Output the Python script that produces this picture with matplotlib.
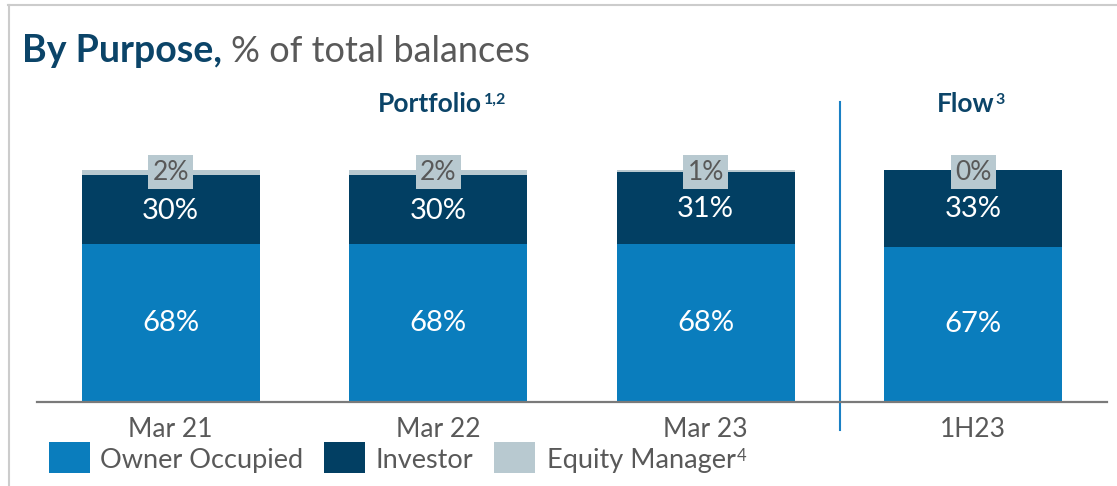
import matplotlib
matplotlib.use("Agg")
import matplotlib.pyplot as plt
from matplotlib.patches import Rectangle
from matplotlib.lines import Line2D

plt.rcParams['font.family'] = ['Lato', 'DejaVu Sans']

categories = ["Mar 21", "Mar 22", "Mar 23", "1H23"]
owner_occupied = [68, 68, 68, 67]
investor = [30, 30, 31, 33]
equity_manager = [2, 2, 1, 0]
series_names = ["Owner Occupied", "Investor", "Equity Manager"]

C_OO = "#0a7dbd"
C_INV = "#023f63"
C_EM = "#b8c9d0"
C_DARK = "#0b4468"
C_GRAY = "#595959"

W, H = 1117, 486
fig = plt.figure(figsize=(W / 100, H / 100), dpi=100)

def px(x, y):
    return x / W, 1 - y / H

# axes: x from 37 to 1107 px, baseline at 402 px, 100% at 170 px
ax = fig.add_axes([37 / W, (H - 402) / H, (1107 - 37) / W, 232 / H])
ax.set_xlim(-0.5, 3.5)
ax.set_ylim(0, 100)

x = list(range(len(categories)))
bw = 0.667
bottom2 = [a + b for a, b in zip(owner_occupied, investor)]
ax.bar(x, owner_occupied, width=bw, color=C_OO, edgecolor="none")
ax.bar(x, investor, width=bw, bottom=owner_occupied, color=C_INV, edgecolor="none")
ax.bar(x, equity_manager, width=bw, bottom=bottom2, color=C_EM, edgecolor="none")

for i in x:
    ax.text(i, owner_occupied[i] / 2, f"{owner_occupied[i]}%", ha="center", va="center",
            color="white", fontsize=21)
    ax.text(i, owner_occupied[i] + investor[i] / 2 - 0.5, f"{investor[i]}%", ha="center",
            va="center", color="white", fontsize=21)
    ax.text(i, 99.0, f"{equity_manager[i]}%", ha="center", va="center",
            color=C_GRAY, fontsize=19,
            bbox=dict(boxstyle="square,pad=0.17", facecolor=C_EM, edgecolor="none"))

for s in ["top", "right", "left"]:
    ax.spines[s].set_visible(False)
ax.spines["bottom"].set_color("#7a7a7a")
ax.spines["bottom"].set_linewidth(1.6)
ax.set_yticks([])
ax.set_xticks(x)
ax.set_xticklabels(categories, fontsize=19, color=C_GRAY)
ax.tick_params(axis="x", length=0, pad=11)

# divider
ax.plot([2.5, 2.5], [-12, 129.5], color="#1a80c4", linewidth=1.5, clip_on=False)

# section headers
t_port = ax.text(0.97, 128.5, "Portfolio", ha="center", va="center", fontsize=19,
                 fontweight="bold", color=C_DARK)
t_flow = ax.text(2.97, 128.5, "Flow", ha="center", va="center", fontsize=19,
                 fontweight="bold", color=C_DARK)
ax.annotate("1,2", xy=(1, 1), xycoords=t_port, xytext=(1, -1), textcoords="offset points",
            ha="left", va="top", fontsize=11.5, fontweight="bold", color=C_DARK)
ax.annotate("3", xy=(1, 1), xycoords=t_flow, xytext=(1, -1), textcoords="offset points",
            ha="left", va="top", fontsize=11.5, fontweight="bold", color=C_DARK)

# title
t1 = fig.text(*px(22, 62), "By Purpose,", fontsize=27, fontweight="bold", color=C_DARK,
              ha="left", va="baseline")
fig.canvas.draw()
r = fig.canvas.get_renderer()
ext = t1.get_window_extent(r)
fig.text(ext.x1 / W + 9 / W, 1 - 62 / H, "% of total balances", fontsize=26,
         color=C_GRAY, ha="left", va="baseline")

# legend (manual)
leg_colors = [C_OO, C_INV, C_EM]
leg_patch_x = [49, 324, 494]
leg_text_x = [100, 376, 547]
for name, c, pxl, tx in zip(series_names, leg_colors, leg_patch_x, leg_text_x):
    fig.patches.append(Rectangle(px(pxl, 473), 41 / W, 31 / H, transform=fig.transFigure,
                                 facecolor=c, edgecolor="none"))
    tt = fig.text(*px(tx, 460), name, fontsize=19.5, color=C_GRAY, ha="left", va="center")
    if name == "Equity Manager":
        fig.canvas.draw()
        e = tt.get_window_extent(fig.canvas.get_renderer())
        fig.text(e.x1 / W + 1 / W, e.y1 / H, "4", fontsize=12, color=C_GRAY,
                 ha="left", va="top")

# frame lines
fig.lines.append(Line2D([8 / W, 1], [1 - 5 / H, 1 - 5 / H], transform=fig.transFigure,
                        color="#cccccc", linewidth=1.5))
fig.lines.append(Line2D([9 / W, 9 / W], [0, 1 - 5 / H], transform=fig.transFigure,
                        color="#cccccc", linewidth=1.5))

fig.savefig("out.png", dpi=100)
